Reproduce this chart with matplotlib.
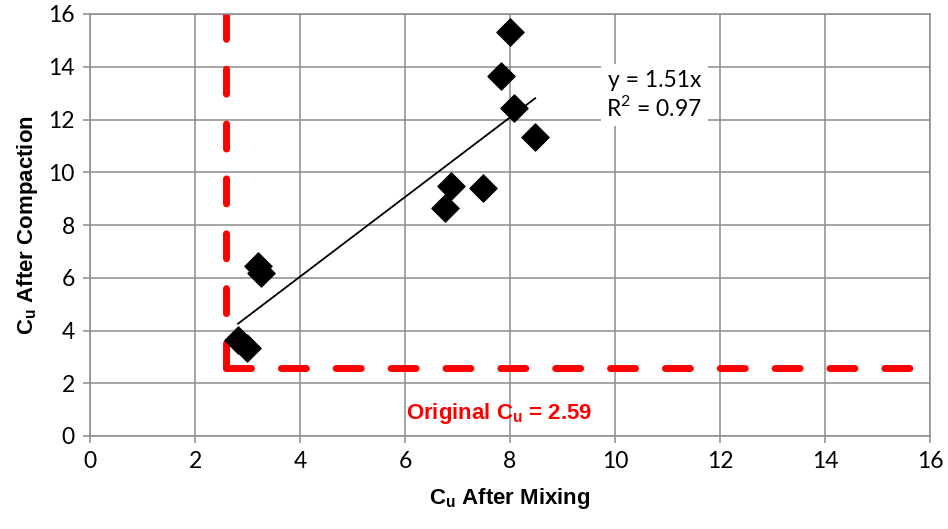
import numpy as np
import matplotlib.pyplot as plt

plt.rcParams['font.family'] = ['Lato', 'DejaVu Sans']

# Cu after mixing vs Cu after compaction
cu_mixing = [2.82, 2.99, 3.20, 3.26, 6.76, 6.88, 7.49, 7.83, 8.00, 8.08, 8.48]
cu_compaction = [3.64, 3.34, 6.45, 6.18, 8.64, 9.48, 9.40, 13.65, 15.32, 12.44, 11.34]
slope = 1.51
r_squared = 0.97
original_cu = 2.59
ticks = [0, 2, 4, 6, 8, 10, 12, 14, 16]

fig = plt.figure(figsize=(9.48, 5.29), dpi=100)
ax = fig.add_axes([90 / 948, 1 - 436 / 529, 840 / 948, 422 / 529])

grid_col = '#8c8c8c'
ax.set_xlim(0, 16)
ax.set_ylim(0, 16)
ax.set_xticks(ticks)
ax.set_yticks(ticks)
ax.grid(True, color=grid_col, linewidth=1.1, zorder=0)
ax.set_axisbelow(True)
for side, sp in ax.spines.items():
    sp.set_color(grid_col)
    sp.set_linewidth(1.1)
ax.tick_params(colors=grid_col, length=5, width=1.1, labelsize=16.5,
               labelcolor='black', pad=6)

# original Cu reference lines, both dashed out from the corner
red_kw = dict(color='red', linewidth=5, dashes=(3.6, 4.3),
              dash_capstyle='round', zorder=2)
ax.plot([original_cu, original_cu], [original_cu, 16], **red_kw)
ax.plot([original_cu, 16], [original_cu, original_cu], **red_kw)

# linear fit through origin
xf = np.array([min(cu_mixing), max(cu_mixing)])
ax.plot(xf, slope * xf, color='black', linewidth=1.3, zorder=3)

ax.scatter(cu_mixing, cu_compaction, marker='D', s=190, color='black',
           zorder=4, clip_on=False)

ax.text(10.75, 12.93, f'y = {slope}x\nR$^\\mathregular{{2}}$ = {r_squared}',
        fontsize=16.5, ha='center', va='center', linespacing=1.2, zorder=5,
        bbox=dict(facecolor='white', edgecolor='none', pad=4))

bold = dict(family=['Liberation Sans', 'DejaVu Sans'], fontweight='bold')
ax.text(7.8, 0.85, 'Original C$_\\mathregular{u}$ = 2.59', color='red',
        fontsize=16, ha='center', va='center', **bold)

ax.set_xlabel('C$_\\mathregular{u}$ After Mixing', fontsize=16,
              labelpad=10, **bold)
ax.set_ylabel('C$_\\mathregular{u}$ After Compaction', fontsize=16,
              labelpad=6, **bold)

fig.savefig('out.png', dpi=100)
